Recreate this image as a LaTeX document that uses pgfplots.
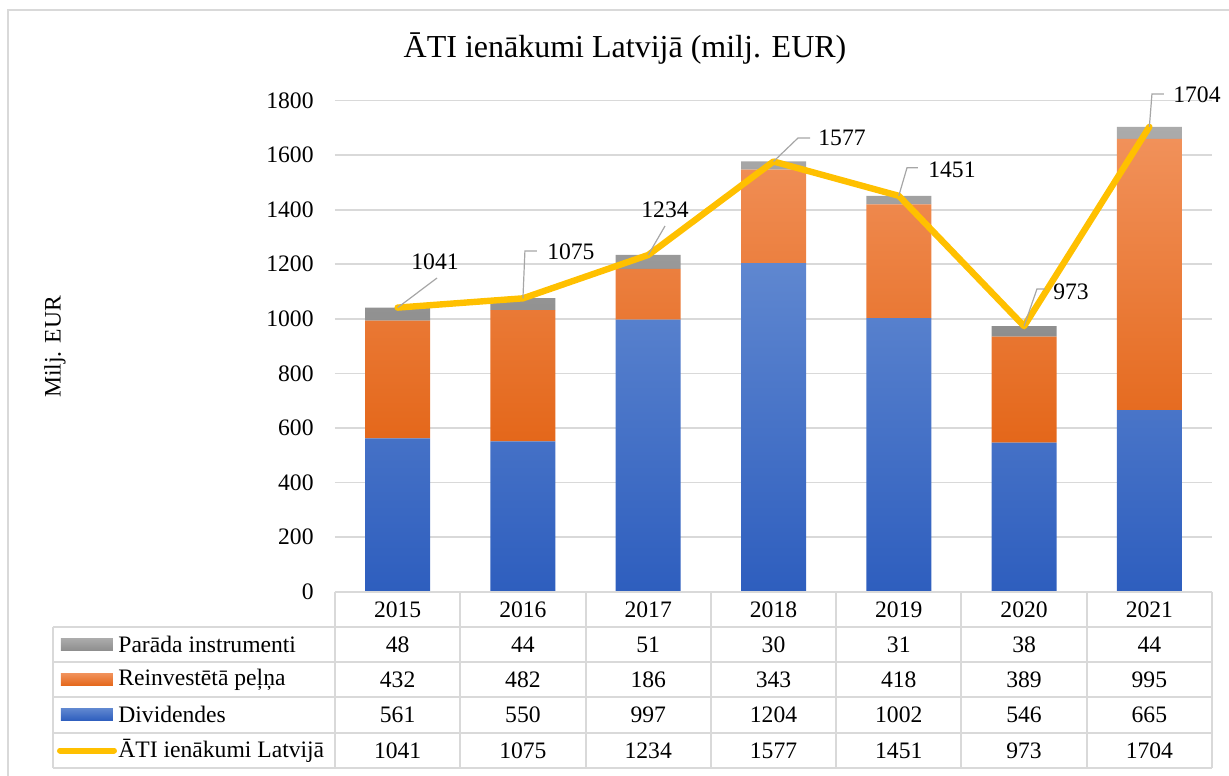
\documentclass[border=0pt]{standalone}
\usepackage{pgfplots}
\pgfplotsset{compat=1.18}
\usepackage{pgfplotstable}
\usepackage{fontspec}
\setmainfont{Liberation Serif}

\definecolor{blueT}{HTML}{5F87D0}
\definecolor{blueB}{HTML}{2E5EBE}
\definecolor{orT}{HTML}{F1915A}
\definecolor{orB}{HTML}{E4671A}
\definecolor{grT}{HTML}{ABABAB}
\definecolor{grB}{HTML}{8E8E8E}
\definecolor{ati}{HTML}{FFC000}
\definecolor{gridc}{HTML}{D9D9D9}
\definecolor{leader}{HTML}{A6A6A6}

\pgfplotstableread{
year par rein div tot
2015 48 432 561 1041
2016 44 482 550 1075
2017 51 186 997 1234
2018 30 343 1204 1577
2019 31 418 1002 1451
2020 38 389 546 973
2021 44 995 665 1704
}\data

\begin{document}
\begin{tikzpicture}[font=\fontsize{11.8}{14}\selectfont]
\begin{axis}[
  at={(0,0)}, anchor=south west,
  scale only axis, width=438.5pt, height=245.35pt,
  ybar stacked, bar width=32.5pt,
  xmin=-0.5, xmax=6.5, ymin=0, ymax=1800,
  ytick={0,200,...,1800},
  xtick={0,1,2,3,4,5,6},
  xticklabels={2015,2016,2017,2018,2019,2020,2021},
  axis line style={draw=none},
  major tick length=0pt,
  ymajorgrids, grid style={gridc, line width=0.8pt},
  tick label style={font=\fontsize{11.8}{14}\selectfont},
  yticklabel style={anchor=east, inner sep=0pt, xshift=-10.5pt},
  xticklabel style={anchor=center, inner sep=0pt, yshift=-9pt},
  /pgf/number format/assume math mode=true,
  /pgf/number format/1000 sep={},
  title={ĀTI ienākumi Latvijā (milj. EUR)},
  title style={at={(axis description cs:0.3307,1.082)}, anchor=center, font=\fontsize{16}{19}\selectfont},
  ylabel={Milj. EUR},
  every axis y label/.style={at={(axis description cs:-0.3193,0.498)}, rotate=90, anchor=center},
  clip=false,
]
\addplot[draw=none, top color=blueT, bottom color=blueB] table[x expr=\coordindex, y=div]{\data};
\addplot[draw=none, top color=orT, bottom color=orB] table[x expr=\coordindex, y=rein]{\data};
\addplot[draw=none, top color=grT, bottom color=grB] table[x expr=\coordindex, y=par]{\data};
\end{axis}

\begin{axis}[
  at={(0,0)}, anchor=south west,
  scale only axis, width=438.5pt, height=245.35pt,
  xmin=-0.5, xmax=6.5, ymin=0, ymax=1800,
  hide axis, clip=false,
]
\addplot[ati, line width=3.2pt, line join=round, line cap=round, mark=none] table[x expr=\coordindex, y=tot]{\data};
% data labels with leader lines
\draw[leader, line width=0.6pt] (axis cs:0,1041) -- ++(19.7pt,14.8pt);
\path (axis cs:0,1041) ++(18.7pt,22.8pt) node[inner sep=0pt] {1041};
\draw[leader, line width=0.6pt] (axis cs:1,1075) -- ++(1pt,23.7pt) -- ++(6pt,0pt);
\path (axis cs:1,1075) ++(12pt,23.2pt) node[anchor=west, inner sep=0pt] {1075};
\draw[leader, line width=0.6pt] (axis cs:2,1234) -- ++(8.4pt,14.5pt);
\path (axis cs:2,1234) ++(8.4pt,22.5pt) node[inner sep=0pt] {1234};
\draw[leader, line width=0.6pt] (axis cs:3,1577) -- ++(12.25pt,11.75pt) -- ++(6pt,0pt);
\path (axis cs:3,1577) ++(22.25pt,11.75pt) node[anchor=west, inner sep=0pt] {1577};
\draw[leader, line width=0.6pt] (axis cs:4,1451) -- ++(4.1pt,14pt) -- ++(5.5pt,0pt);
\path (axis cs:4,1451) ++(14.6pt,13pt) node[anchor=west, inner sep=0pt] {1451};
\draw[leader, line width=0.6pt] (axis cs:5,973) -- ++(6.45pt,18.6pt) -- ++(4pt,0pt);
\path (axis cs:5,973) ++(14.45pt,17.1pt) node[anchor=west, inner sep=0pt] {973};
\draw[leader, line width=0.6pt] (axis cs:6,1704) -- ++(1.3pt,16.45pt) -- ++(6pt,0pt);
\path (axis cs:6,1704) ++(11.8pt,16pt) node[anchor=west, inner sep=0pt] {1704};
\end{axis}

% data table and frame, in reference pixel units
\begin{scope}[x=0.5pt, y=-0.5pt, shift={(-167.5pt,295.7pt)}]
  \coordinate (bbA) at (0,0);
  \coordinate (bbB) at (1229,775);
  \draw[gridc, line width=0.9pt] (8,776) -- (8,10) -- (1230,10);
  \begin{scope}[gridc, line width=1pt]
    \draw (335,592) -- (1212,592);
    \foreach \yy in {627,662,697,733,768} \draw (53,\yy) -- (1212,\yy);
    \draw (53,627) -- (53,768);
    \foreach \k in {0,...,7} \draw ({335+125.2857*\k},592) -- ({335+125.2857*\k},768);
  \end{scope}
  % legend keys
  \fill[top color=grT, bottom color=grB] (61,638.5) rectangle (113,650.5);
  \fill[top color=orT, bottom color=orB] (61,673.5) rectangle (113,685.5);
  \fill[top color=blueT, bottom color=blueB] (61,708.5) rectangle (113,720.5);
  \draw[ati, line width=3pt, line cap=round] (60,750.5) -- (114,750.5);
  \node[anchor=west, inner sep=0pt] at (118,644.5) {Parāda instrumenti};
  \node[anchor=west, inner sep=0pt] at (118,679.5) {Reinvestētā peļņa};
  \node[anchor=west, inner sep=0pt] at (118,714.5) {Dividendes};
  \node[anchor=west, inner sep=0pt] at (118,750.5) {ĀTI ienākumi Latvijā};
  % values
  \foreach \i in {0,...,6} {
    \pgfmathsetmacro{\cx}{335+125.2857*(\i+0.5)}
    \pgfplotstablegetelem{\i}{par}\of\data
    \node[inner sep=0pt] at (\cx,644.5) {\pgfplotsretval};
    \pgfplotstablegetelem{\i}{rein}\of\data
    \node[inner sep=0pt] at (\cx,679.5) {\pgfplotsretval};
    \pgfplotstablegetelem{\i}{div}\of\data
    \node[inner sep=0pt] at (\cx,714.5) {\pgfplotsretval};
    \pgfplotstablegetelem{\i}{tot}\of\data
    \node[inner sep=0pt] at (\cx,750.5) {\pgfplotsretval};
  }
\end{scope}
\pgfresetboundingbox
\path[use as bounding box] (bbA) rectangle (bbB);
\end{tikzpicture}
\end{document}
